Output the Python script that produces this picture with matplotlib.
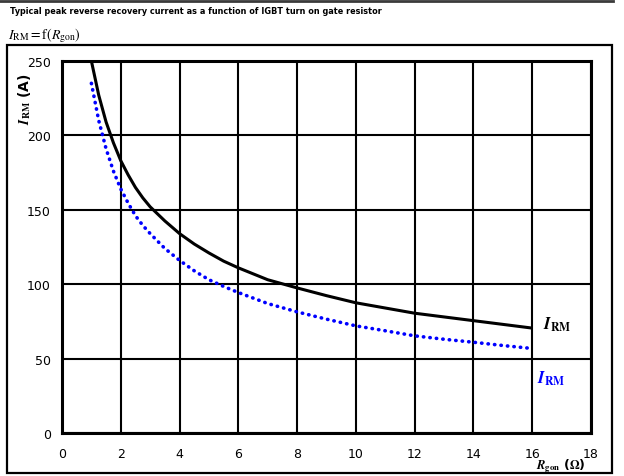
import matplotlib
matplotlib.use('Agg')
import matplotlib.pyplot as plt
from matplotlib.patches import Rectangle
from matplotlib.lines import Line2D

plt.rcParams['mathtext.fontset'] = 'stix'

# Gate resistor R_gon (Ohm) and peak reverse recovery current I_RM (A)
r_black = [1, 1.25, 1.5, 1.75, 2, 2.25, 2.5, 2.75, 3, 3.5, 4, 4.5, 5, 5.5, 6, 7, 8, 9, 10, 11, 12, 13, 14, 15, 16]
irm_black = [250, 227, 209, 195, 183, 173.5, 165, 158, 152, 142.5, 134, 127, 121, 115.5, 111, 103, 97.5, 92.3,
             87.5, 84, 80.5, 78, 75.5, 73, 70.5]

r_blue = [1, 1.25, 1.5, 1.75, 2, 2.25, 2.5, 2.75, 3, 3.5, 4, 4.5, 5, 5.5, 6, 7, 8, 9, 10, 11, 12, 13, 14, 15, 16]
irm_blue = [235, 210, 191, 176, 164, 154.5, 146, 139.5, 134, 124, 116, 109, 103, 98.5, 94.4, 87, 81.4, 76.5,
            72, 68.7, 65.3, 63, 61, 58.8, 56.8]

x_ticks = [0, 2, 4, 6, 8, 10, 12, 14, 16, 18]
y_ticks = [0, 50, 100, 150, 200, 250]

fig = plt.figure(figsize=(6.24, 4.77), dpi=100)
ax = fig.add_axes([62 / 624, 1 - 434 / 477, (591 - 62) / 624, (434 - 62) / 477])

# outer frame and top rule
fig.add_artist(Rectangle((7 / 624, 1 - 474 / 477), (612 - 7) / 624, (474 - 46) / 477,
                         transform=fig.transFigure, fill=False, edgecolor='black', linewidth=1.6))
fig.add_artist(Line2D([0, 613 / 624], [1 - 1.5 / 477, 1 - 1.5 / 477], transform=fig.transFigure,
                      color='#3a3a3a', linewidth=2))

fig.text(10 / 624, 1 - 12 / 477, 'Typical peak reverse recovery current as a function of IGBT turn on gate resistor',
         fontsize=5.9, fontweight='bold', va='center', ha='left')
fig.text(8 / 624, 1 - 36 / 477, r'$I_{\rm RM} = {\rm f}(R_{\rm gon})$', fontsize=10, va='center', ha='left')

ax.plot(r_black, irm_black, color='black', linewidth=2.2, solid_capstyle='butt',
        solid_joinstyle='round', zorder=3)
ax.plot(r_blue, irm_blue, color='#0000ff', linewidth=2.6, linestyle=(0, (0.1, 1.7)),
        dash_capstyle='round', zorder=3)

ax.text(16.37, 73.3, r'$\mathbfit{I}_{\mathbf{RM}}$', fontsize=12, color='black', va='center', ha='left')
ax.text(16.17, 37, r'$\mathbfit{I}_{\mathbf{RM}}$', fontsize=12, color='#0000ff', va='center', ha='left')

ax.set_xlim(0, 18)
ax.set_ylim(0, 250)
ax.set_xticks(x_ticks)
ax.set_yticks(y_ticks)
ax.tick_params(length=0, labelsize=9, pad=8)
ax.tick_params(axis='x', pad=10)
ax.grid(True, color='black', linewidth=1.5)
ax.set_axisbelow(True)
for s in ax.spines.values():
    s.set_linewidth(2.2)

ax.set_ylabel(r'$\mathbfit{I}_{\mathbf{RM}}$ (A)', fontsize=10, fontweight='bold')
ax.yaxis.set_label_coords(-0.055, 0.9)
fig.text(586 / 624, 1 - 466 / 477, r'$\mathbfit{R}_{\mathbf{gon}}$ ($\mathbf{\Omega}$)', fontsize=9,
         fontweight='bold', va='center', ha='right')

fig.savefig('out.png', dpi=100)
